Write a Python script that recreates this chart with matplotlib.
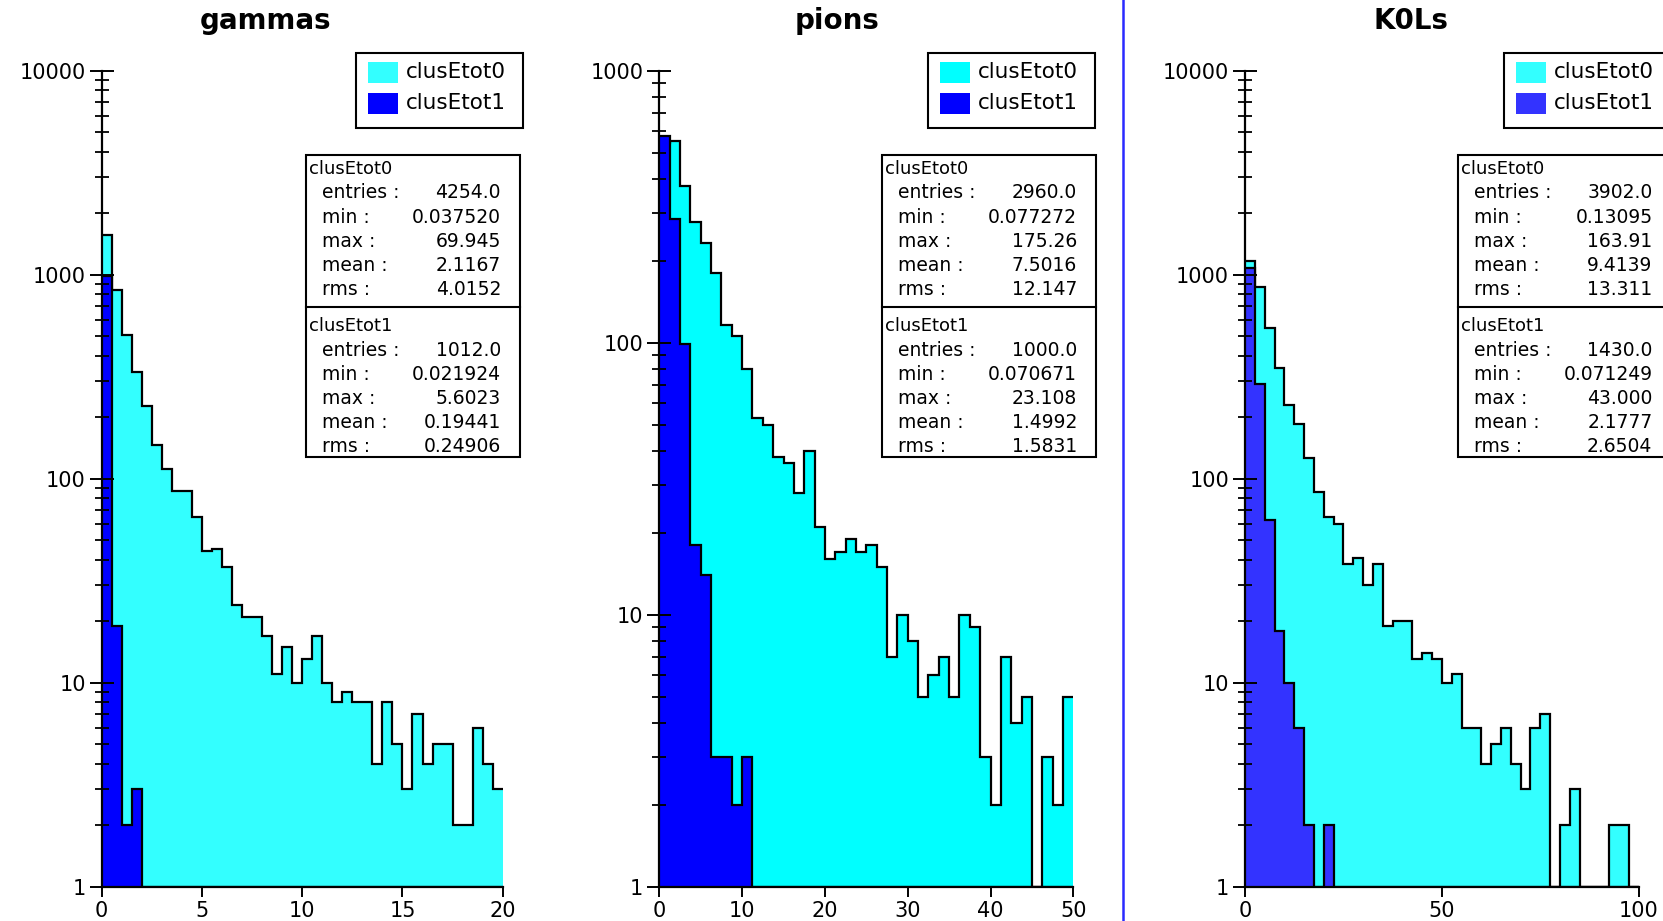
"""Three clusEtot histograms (gammas, pions, K0Ls) in a ROOT-like style."""

import matplotlib

matplotlib.use("Agg")
import matplotlib.pyplot as plt
import numpy as np
from matplotlib.lines import Line2D
from matplotlib.patches import Rectangle
from matplotlib.ticker import FixedLocator, FuncFormatter, LogLocator, NullFormatter

FIG_W, FIG_H = 1663, 921

SERIES_NAMES = ["clusEtot0", "clusEtot1"]
STAT_LABELS = ["entries :", "min :", "max :", "mean :", "rms :"]

# gammas: 40 bins on [0, 20]
GAMMA_RANGE = (0.0, 20.0)
GAMMA_ETOT0 = [1560, 840, 507, 332, 226, 146, 112, 87, 87, 65,
               44, 45, 37, 24, 21, 21, 17, 11, 15, 10,
               13, 17, 10, 8, 9, 8, 8, 4, 8, 5,
               3, 7, 4, 5, 5, 2, 2, 6, 4, 3]
GAMMA_ETOT1 = [988, 19, 2, 3] + [0] * 36
GAMMA_STATS0 = ["4254.0", "0.037520", "69.945", "2.1167", "4.0152"]
GAMMA_STATS1 = ["1012.0", "0.021924", "5.6023", "0.19441", "0.24906"]

# pions: 40 bins on [0, 50]
PION_RANGE = (0.0, 50.0)
PION_ETOT0 = [540, 551, 376, 278, 233, 180, 116, 106, 80, 53,
              50, 38, 36, 28, 40, 21, 16, 17, 19, 17,
              18, 15, 7, 10, 8, 5, 6, 7, 5, 10,
              9, 3, 2, 7, 4, 5, 0, 3, 2, 5]
PION_ETOT1 = [575, 285, 99, 18, 14, 3, 3, 2, 3] + [0] * 31
PION_STATS0 = ["2960.0", "0.077272", "175.26", "7.5016", "12.147"]
PION_STATS1 = ["1000.0", "0.070671", "23.108", "1.4992", "1.5831"]

# K0Ls: 40 bins on [0, 100]
K0L_RANGE = (0.0, 100.0)
K0L_ETOT0 = [1166, 874, 551, 347, 230, 186, 126, 86, 65, 60,
             38, 41, 30, 38, 19, 20, 20, 13, 14, 13,
             10, 11, 6, 6, 4, 5, 6, 4, 3, 6,
             7, 0, 2, 3, 0, 0, 0, 2, 2, 0]
K0L_ETOT1 = [1078, 291, 63, 18, 10, 6, 2, 0, 2] + [0] * 31
K0L_STATS0 = ["3902.0", "0.13095", "163.91", "9.4139", "13.311"]
K0L_STATS1 = ["1430.0", "0.071249", "43.000", "2.1777", "2.6504"]


def fx(px):
    return px / FIG_W


def fy(py):
    return 1.0 - py / FIG_H


def draw_hist(ax, counts, value_range, color):
    counts = np.clip(np.asarray(counts, dtype=float), 1.0, None)
    edges = np.linspace(value_range[0], value_range[1], len(counts) + 1)
    ax.stairs(counts, edges, baseline=1.0, fill=True, color=color, linewidth=0)
    ax.stairs(counts, edges, baseline=None, color="black", linewidth=1.6)


def draw_legend(fig, left, colors):
    top = 53
    fig.add_artist(Rectangle((fx(left), fy(128)), fx(167), 75 / FIG_H,
                             transform=fig.transFigure, facecolor="white",
                             edgecolor="black", linewidth=1.5, zorder=5))
    for i, (name, color) in enumerate(zip(SERIES_NAMES, colors)):
        y0 = top + 9 + 31 * i
        fig.add_artist(Rectangle((fx(left + 12), fy(y0 + 21)), fx(30), 21 / FIG_H,
                                 transform=fig.transFigure, facecolor=color,
                                 edgecolor="none", zorder=6))
        fig.text(fx(left + 50), fy(y0 + 10), name, fontsize=15.5,
                 ha="left", va="center", zorder=7)


def draw_stats(fig, left, stats0, stats1):
    width = 214
    fig.add_artist(Rectangle((fx(left), fy(457)), fx(width), 302 / FIG_H,
                             transform=fig.transFigure, facecolor="white",
                             edgecolor="black", linewidth=1.5, zorder=5))
    fig.add_artist(Line2D([fx(left), fx(left + width)], [fy(307), fy(307)],
                          transform=fig.transFigure, color="black",
                          linewidth=1.5, zorder=6))
    for name, stats, top in ((SERIES_NAMES[0], stats0, 169), (SERIES_NAMES[1], stats1, 326)):
        fig.text(fx(left + 3), fy(top), name, fontsize=13,
                 ha="left", va="center", zorder=7)
        for j, (label, value) in enumerate(zip(STAT_LABELS, stats)):
            y = top + 24 + 24.2 * j
            fig.text(fx(left + 16), fy(y), label, fontsize=13.5,
                     ha="left", va="center", zorder=7)
            fig.text(fx(left + 195), fy(y), value, fontsize=13.5,
                     ha="right", va="center", zorder=7)


def draw_panel(fig, panel):
    x0, x1 = panel["x_px"]
    ax = fig.add_axes([fx(x0), fy(886.7), fx(x1 - x0), (886.7 - 70.7) / FIG_H])
    draw_hist(ax, panel["h0"], panel["range"], panel["colors"][0])
    draw_hist(ax, panel["h1"], panel["range"], panel["colors"][1])

    ax.set_yscale("log")
    ax.set_xlim(*panel["range"])
    ax.set_ylim(1, panel["ymax"])
    ax.xaxis.set_major_locator(FixedLocator(panel["xticks"]))
    ax.xaxis.set_major_formatter(FuncFormatter(lambda v, _: f"{v:g}"))
    ax.yaxis.set_major_locator(LogLocator(base=10))
    ax.yaxis.set_minor_locator(LogLocator(base=10, subs=np.arange(2, 10)))
    ax.yaxis.set_major_formatter(FuncFormatter(lambda v, _: f"{int(round(v))}"))
    ax.yaxis.set_minor_formatter(NullFormatter())

    for side in ("top", "right"):
        ax.spines[side].set_visible(False)
    for side in ("left", "bottom"):
        ax.spines[side].set_linewidth(1.6)
    ax.tick_params(axis="y", which="major", direction="inout", length=17,
                   width=1.4, labelsize=15, pad=3)
    ax.tick_params(axis="y", which="minor", direction="inout", length=10, width=1.3)
    ax.tick_params(axis="x", which="major", direction="out", length=7,
                   width=1.4, labelsize=15, pad=3)

    fig.text(fx(panel["title_x"]), fy(21), panel["title"], fontsize=20,
             fontweight="bold", ha="center", va="center")
    draw_legend(fig, panel["legend_x"], panel["colors"])
    draw_stats(fig, panel["stats_x"], panel["stats0"], panel["stats1"])


def main():
    fig = plt.figure(figsize=(FIG_W / 100, FIG_H / 100), dpi=100)
    panels = [
        dict(title="gammas", h0=GAMMA_ETOT0, h1=GAMMA_ETOT1, range=GAMMA_RANGE,
             stats0=GAMMA_STATS0, stats1=GAMMA_STATS1, ymax=1e4,
             xticks=[0, 5, 10, 15, 20], colors=("#33ffff", "#0000ff"),
             x_px=(101.7, 502.7), title_x=266, legend_x=356, stats_x=306),
        dict(title="pions", h0=PION_ETOT0, h1=PION_ETOT1, range=PION_RANGE,
             stats0=PION_STATS0, stats1=PION_STATS1, ymax=1e3,
             xticks=[0, 10, 20, 30, 40, 50], colors=("#00ffff", "#0000ff"),
             x_px=(659.3, 1073.3), title_x=837, legend_x=928, stats_x=882),
        dict(title="K0Ls", h0=K0L_ETOT0, h1=K0L_ETOT1, range=K0L_RANGE,
             stats0=K0L_STATS0, stats1=K0L_STATS1, ymax=1e4,
             xticks=[0, 50, 100], colors=("#33ffff", "#3333ff"),
             x_px=(1245.0, 1638.7), title_x=1411, legend_x=1504, stats_x=1457.5),
    ]
    for panel in panels:
        draw_panel(fig, panel)

    fig.add_artist(Line2D([fx(1122.7), fx(1122.7)], [0, 1], transform=fig.transFigure,
                          color="#2a2aff", linewidth=1.8))
    fig.savefig("out.png", dpi=100)
    plt.close(fig)


if __name__ == "__main__":
    main()
